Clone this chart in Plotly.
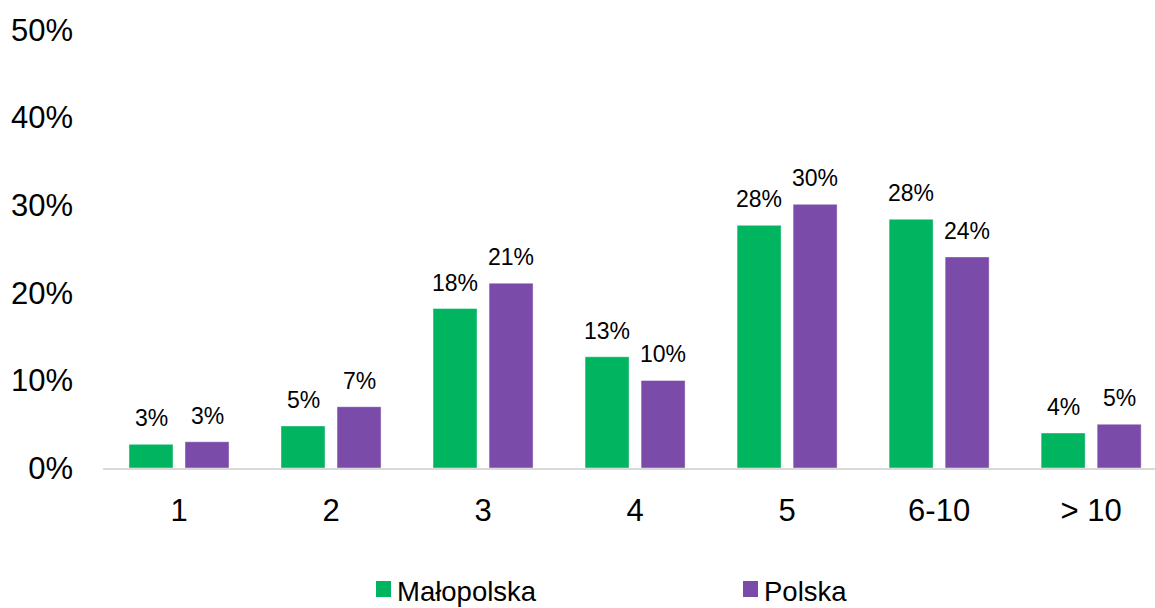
import plotly.graph_objects as go

categories = ["1", "2", "3", "4", "5", "6-10", "> 10"]
malopolska = [0.027, 0.048, 0.182, 0.127, 0.277, 0.284, 0.040]
polska = [0.030, 0.070, 0.211, 0.100, 0.301, 0.241, 0.050]
y_ticks = [0, 0.1, 0.2, 0.3, 0.4, 0.5]

green = "#00B460"
purple = "#7A4BA9"
font_family = "Liberation Sans, Arial, sans-serif"

W, H = 1155, 608
L, T, B = 103, 30, 140
plot_w, plot_h = W - L, H - T - B


def px_x(px):
    return (px - L) / plot_w


def px_y(py):
    return (H - B - py) / plot_h


fig = go.Figure()
fig.add_trace(go.Bar(
    name="Małopolska", x=categories, y=malopolska,
    marker=dict(color=green, line=dict(color="rgba(255,255,255,0.45)", width=1)),
))
fig.add_trace(go.Bar(
    name="Polska", x=categories, y=polska,
    marker=dict(color=purple, line=dict(color="rgba(255,255,255,0.45)", width=1)),
))

# data labels above each bar
for series, shift in ((malopolska, -28), (polska, 28)):
    for i, val in enumerate(series):
        fig.add_annotation(
            x=i, y=val, xshift=shift, yshift=11,
            text=f"{round(val * 100):.0f}%", showarrow=False,
            yanchor="bottom", font=dict(size=23, color="#000000", family=font_family),
        )

# legend drawn by hand (square markers bigger than plotly's default)
for name, color, sq_left in (("Małopolska", green, 376), ("Polska", purple, 743)):
    fig.add_shape(
        type="rect", xref="paper", yref="paper",
        x0=px_x(sq_left), x1=px_x(sq_left + 15), y0=px_y(597), y1=px_y(581),
        fillcolor=color, line=dict(width=0),
    )
    fig.add_annotation(
        xref="paper", yref="paper", x=px_x(sq_left + 19), y=px_y(591),
        xanchor="left", yanchor="middle", text=name, showarrow=False,
        font=dict(size=27.5, color="#000000", family=font_family),
    )

fig.update_layout(
    width=W, height=H,
    margin=dict(l=L, r=0, t=T, b=B),
    paper_bgcolor="white", plot_bgcolor="white",
    font=dict(family=font_family, color="#000000"),
    barmode="group", bargap=0.263, bargroupgap=0.214,
    showlegend=False,
    xaxis=dict(
        range=[-0.5, 6.42], showgrid=False, showline=True, linecolor="#D9D9D9",
        linewidth=2, ticks="", tickfont=dict(size=31), ticklabelstandoff=14,
        automargin=False,
    ),
    yaxis=dict(
        range=[0, 0.5], tickvals=y_ticks, tickformat=".0%", showgrid=False,
        zeroline=False, showline=False, tickfont=dict(size=31),
        ticklabelstandoff=29, automargin=False,
    ),
)

# page body has a default 8px margin; drop it so the figure sits at the corner
fig.write_html(
    "out.html",
    config={"displayModeBar": False},
    post_script="document.body.style.margin='0px';",
)
